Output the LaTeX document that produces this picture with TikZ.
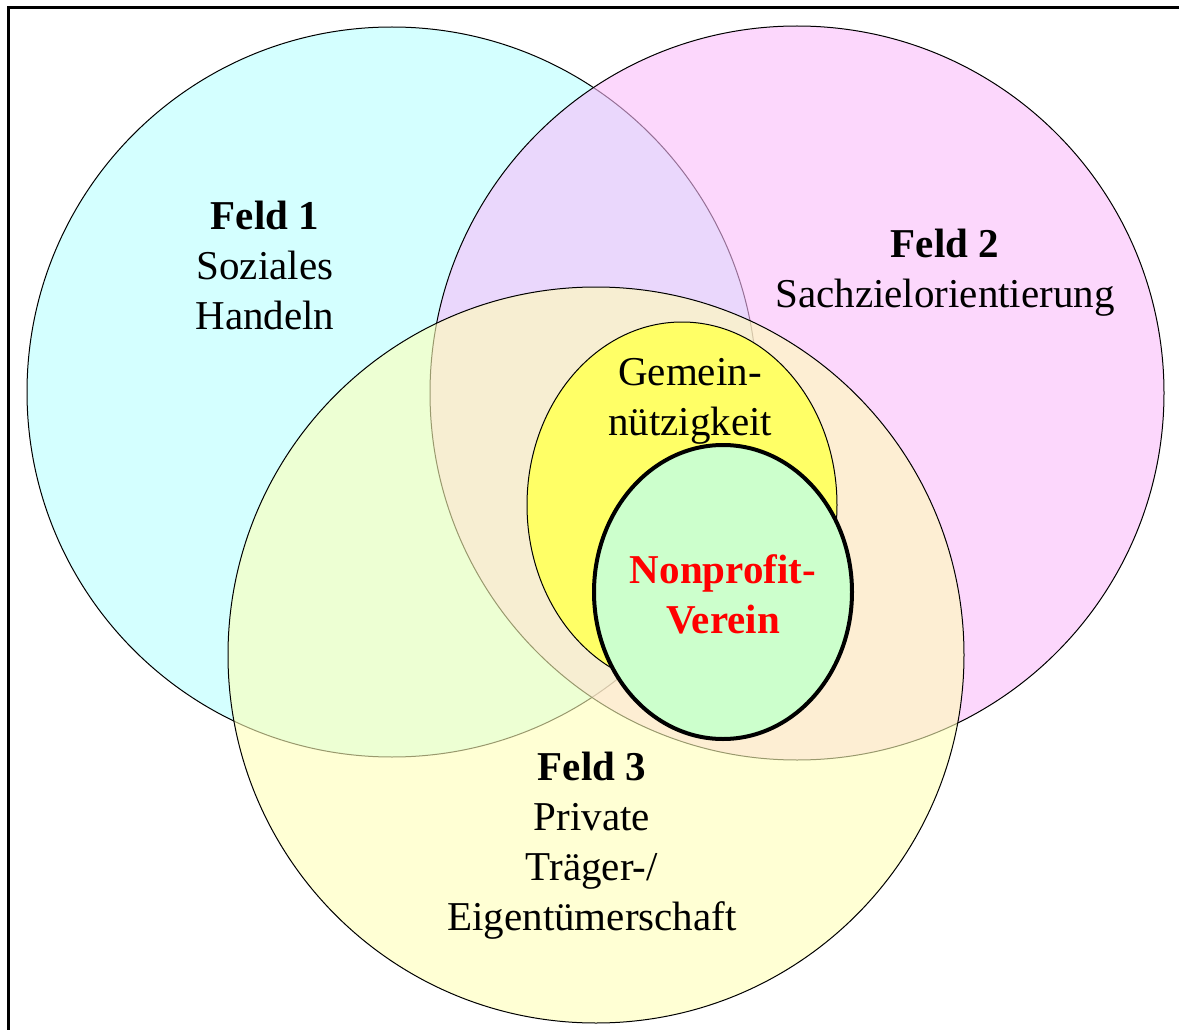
\documentclass[tikz,border=0pt]{standalone}
\usepackage{fontspec}
\setmainfont{Liberation Serif}
\usepackage{tikz}

\definecolor{feldcyan}{RGB}{183,255,255}
\definecolor{feldmagenta}{RGB}{250,188,250}
\definecolor{feldyellow}{RGB}{255,255,183}
\definecolor{gemeinyellow}{RGB}{255,255,102}
\definecolor{vereingreen}{RGB}{204,255,204}
\definecolor{vereinred}{RGB}{255,0,0}

\tikzset{
	feld/.style={draw=black, line width=1pt, fill opacity=0.6},
	label/.style={align=center, font=\fontsize{41}{50}\selectfont},
}

\begin{document}
\begin{tikzpicture}[x=1pt, y=-1pt]
		\useasboundingbox (0,0) rectangle (1179,1030);
		
		% rahmen
		\draw[line width=3pt] (8,1032) -- (8,8) -- (1181,8);
		
		% die drei felder
		\filldraw[feld, fill=feldcyan] (392,392) circle (365);
		\filldraw[feld, fill=feldmagenta] (797,393) circle (367);
		\filldraw[feld, fill=feldyellow] (596,655) circle (368);
		
		% gemeinnuetzigkeit und verein
		\filldraw[fill=gemeinyellow, draw=black, line width=1pt] (682,505) ellipse (155 and 183);
		\filldraw[fill=vereingreen, draw=black, line width=4pt] (723,592) ellipse (129 and 147);
		
		\node[label] (feld1) at (265,265) {\textbf{Feld 1}\\Soziales\\Handeln};
		\node[label] (feld2) at (945,273) {\textbf{Feld 2}\\Sachzielorientierung};
		\node[label] (gemein) at (690,401) {Gemein-\\nützigkeit};
		\node[label, text=vereinred, font=\fontsize{41}{50}\selectfont\bfseries] (verein) at (723,594) {Nonprofit-\\Verein};
		\node[label] (feld3) at (592,846) {\textbf{Feld 3}\\Private\\Träger-/\\Eigentümerschaft};
		
	\end{tikzpicture}
\end{document}
